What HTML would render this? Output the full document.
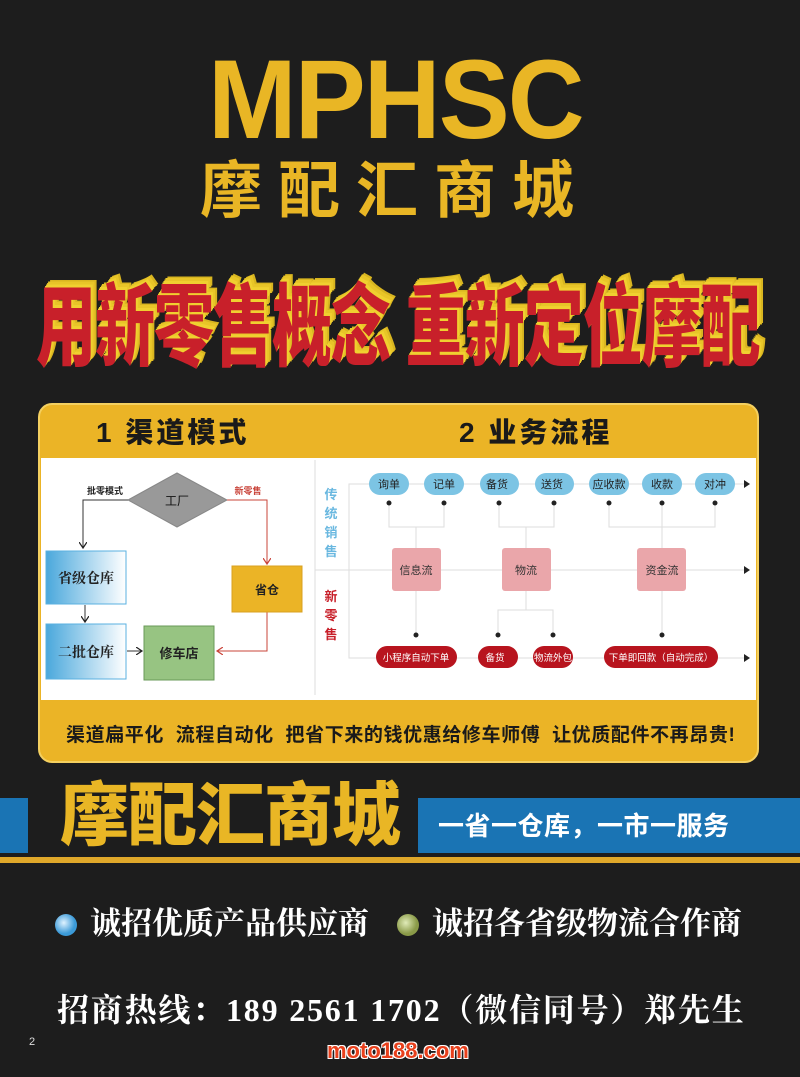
<!DOCTYPE html>
<html><head><meta charset="utf-8"><style>
*{margin:0;padding:0;box-sizing:border-box}
body{width:800px;height:1077px;background:#1d1d1d;position:relative;overflow:hidden;font-family:"Liberation Sans","Noto Sans CJK SC",sans-serif}
.a{position:absolute;white-space:nowrap}
.cn{font-family:"Liberation Sans","Noto Sans CJK SC",sans-serif}
.sf{font-family:"Liberation Serif","Noto Serif CJK SC",serif}
</style></head><body>
<div class="a" style="left:208px;top:40px;font-size:112px;font-weight:bold;color:#e9b625;line-height:120px;transform:scaleX(0.95);transform-origin:left top;letter-spacing:-2px">MPHSC</div>
<div class="a cn" style="left:200px;top:152px;font-size:62px;font-weight:bold;color:#e9b625;letter-spacing:16px;line-height:80px">摩配汇商城</div>
<div class="a cn" style="left:36px;top:276px;font-size:60px;font-weight:900;color:#c8202a;line-height:70px;transform:scaleY(1.5);transform-origin:left top;letter-spacing:-1px;text-shadow:1px -1px 0 #f0d030,2px -2px 0 #f0d030,3px -3px 0 #e8c528,4px -4px 0 #e8c528,5px -4px 0 #d8b520,6px -5px 0 #d8b520">用新零售概念 重新定位摩配</div>

<div class="a" style="left:38px;top:403px;width:721px;height:360px;border-radius:14px;background:#ebb426;border:2px solid #f4d060"></div>
<div class="a" style="left:41px;top:458px;width:715px;height:242px;background:#fff"></div>
<div class="a cn" style="left:96px;top:411px;font-size:28px;font-weight:900;color:#1a1a1a;letter-spacing:3px">1 渠道模式</div>
<div class="a cn" style="left:459px;top:411px;font-size:28px;font-weight:900;color:#1a1a1a;letter-spacing:3px">2 业务流程</div>
<div class="a cn" style="left:66px;top:720px;font-size:19px;font-weight:bold;color:#1a1a1a;letter-spacing:0.6px">渠道扁平化&nbsp; 流程自动化&nbsp; 把省下来的钱优惠给修车师傅&nbsp; 让优质配件不再昂贵!</div>

<svg class="a" style="left:0;top:0" width="800" height="1077" font-family="Liberation Sans,Noto Sans CJK SC,sans-serif">
<defs>
<linearGradient id="bg1" x1="0" x2="1"><stop offset="0" stop-color="#4aa8dc"/><stop offset="1" stop-color="#fff"/></linearGradient>
<marker id="ak" markerWidth="8" markerHeight="8" refX="6" refY="4" orient="auto"><path d="M0,0 L6,4 L0,8" fill="none" stroke="#222" stroke-width="1.2"/></marker>
<marker id="ar" markerWidth="8" markerHeight="8" refX="6" refY="4" orient="auto"><path d="M0,0 L6,4 L0,8" fill="none" stroke="#c9443a" stroke-width="1.2"/></marker>
</defs>
<line x1="315" y1="460" x2="315" y2="695" stroke="#ddd"/>
<polygon points="128,500 177,473 227,500 177,527" fill="#999" stroke="#888"/>
<text x="177" y="505" font-size="12" text-anchor="middle" fill="#111">工厂</text>
<text x="105" y="494" font-size="9" font-weight="bold" text-anchor="middle" fill="#222">批零模式</text>
<text x="248" y="494" font-size="9" font-weight="bold" text-anchor="middle" fill="#c9443a">新零售</text>
<polyline points="128,500 83,500 83,548" fill="none" stroke="#333" marker-end="url(#ak)"/>
<polyline points="227,500 267,500 267,564" fill="none" stroke="#c9443a" marker-end="url(#ar)"/>
<polyline points="267,612 267,651 217,651" fill="none" stroke="#c9443a" marker-end="url(#ar)"/>
<line x1="85" y1="605" x2="85" y2="622" stroke="#333" marker-end="url(#ak)"/>
<line x1="127" y1="651" x2="142" y2="651" stroke="#333" marker-end="url(#ak)"/>
<rect x="46" y="551" width="80" height="53" fill="url(#bg1)" stroke="#5ab0e0"/>
<rect x="46" y="624" width="80" height="55" fill="url(#bg1)" stroke="#5ab0e0"/>
<rect x="144" y="626" width="70" height="54" fill="#97c482" stroke="#6a9a58"/>
<rect x="232" y="566" width="70" height="46" fill="#ebb426" stroke="#d8a020"/>
<text x="86" y="583" font-size="14" font-family="Liberation Serif,Noto Serif CJK SC,serif" font-weight="bold" text-anchor="middle" fill="#222">省级仓库</text>
<text x="86" y="657" font-size="14" font-family="Liberation Serif,Noto Serif CJK SC,serif" font-weight="bold" text-anchor="middle" fill="#222">二批仓库</text>
<text x="179" y="658" font-size="13" font-weight="bold" text-anchor="middle" fill="#222">修车店</text>
<text x="267" y="594" font-size="12" font-weight="bold" text-anchor="middle" fill="#222">省仓</text>
<g stroke="#ddd" fill="none">
<polyline points="745,484 349,484 349,658 745,658"/>
<line x1="315" y1="570" x2="745" y2="570"/>
<polyline points="389,503 389,527 444,527 444,503"/><line x1="416" y1="527" x2="416" y2="635"/>
<polyline points="499,503 499,527 554,527 554,503"/><line x1="526" y1="527" x2="526" y2="610"/>
<polyline points="498,635 498,610 553,610 553,635"/>
<polyline points="609,503 609,527 715,527 715,503"/><line x1="662" y1="503" x2="662" y2="635"/>
</g>
<g fill="#222"><path d="M744,480 L750,484 L744,488z"/><path d="M744,566 L750,570 L744,574z"/><path d="M744,654 L750,658 L744,662z"/>
<circle cx="389" cy="503" r="2.5"/><circle cx="444" cy="503" r="2.5"/><circle cx="499" cy="503" r="2.5"/><circle cx="554" cy="503" r="2.5"/><circle cx="609" cy="503" r="2.5"/><circle cx="662" cy="503" r="2.5"/><circle cx="715" cy="503" r="2.5"/>
<circle cx="416" cy="635" r="2.5"/><circle cx="498" cy="635" r="2.5"/><circle cx="553" cy="635" r="2.5"/><circle cx="662" cy="635" r="2.5"/></g>
<g fill="#7cc4e4"><rect x="369" y="473" width="40" height="22" rx="11"/><rect x="424" y="473" width="40" height="22" rx="11"/><rect x="480" y="473" width="39" height="22" rx="11"/><rect x="535" y="473" width="39" height="22" rx="11"/><rect x="589" y="473" width="40" height="22" rx="11"/><rect x="642" y="473" width="40" height="22" rx="11"/><rect x="695" y="473" width="40" height="22" rx="11"/></g>
<g font-size="11" text-anchor="middle" fill="#222"><text x="389" y="488">询单</text><text x="444" y="488">记单</text><text x="497" y="488">备货</text><text x="552" y="488">送货</text><text x="609" y="488">应收款</text><text x="662" y="488">收款</text><text x="715" y="488">对冲</text></g>
<g fill="#eaa6aa"><rect x="392" y="548" width="49" height="43" rx="3"/><rect x="502" y="548" width="49" height="43" rx="3"/><rect x="637" y="548" width="49" height="43" rx="3"/></g>
<g font-size="11" text-anchor="middle" fill="#333"><text x="416" y="574">信息流</text><text x="526" y="574">物流</text><text x="662" y="574">资金流</text></g>
<g fill="#b8141e"><rect x="376" y="646" width="81" height="22" rx="11"/><rect x="478" y="646" width="40" height="22" rx="11"/><rect x="533" y="646" width="40" height="22" rx="11"/><rect x="604" y="646" width="114" height="22" rx="11"/></g>
<g font-size="9.5" text-anchor="middle" fill="#fff"><text x="416" y="661">小程序自动下单</text><text x="495" y="661">备货</text><text x="553" y="661">物流外包</text><text x="661" y="661">下单即回款（自动完成）</text></g>
<g font-size="13" font-weight="bold" text-anchor="middle"><text x="331" y="499" fill="#6ab8e0">传</text><text x="331" y="518" fill="#6ab8e0">统</text><text x="331" y="537" fill="#6ab8e0">销</text><text x="331" y="556" fill="#6ab8e0">售</text>
<text x="331" y="601" fill="#c8202a">新</text><text x="331" y="620" fill="#c8202a">零</text><text x="331" y="639" fill="#c8202a">售</text></g>
<rect x="0" y="798" width="28" height="55" fill="#1a74b4"/>
<rect x="418" y="798" width="382" height="55" fill="#1a74b4"/>
<rect x="0" y="857" width="800" height="6" fill="#e0a82a"/>
<defs><radialGradient id="cb" cx=".4" cy=".4"><stop offset="0" stop-color="#dff2ff"/><stop offset="1" stop-color="#3b9ad8"/></radialGradient>
<radialGradient id="cg" cx=".4" cy=".4"><stop offset="0" stop-color="#e0ebb8"/><stop offset="1" stop-color="#8a9a48"/></radialGradient></defs>
<circle cx="66" cy="925" r="11" fill="url(#cb)"/><circle cx="408" cy="925" r="11" fill="url(#cg)"/>
</svg>
<div class="a cn" style="left:60px;top:776px;font-size:69px;font-weight:900;color:#e9b625;line-height:80px;letter-spacing:-1px">摩配汇商城</div>
<div class="a cn" style="left:438px;top:808px;font-size:26px;font-weight:bold;color:#fff;line-height:36px;letter-spacing:0.5px">一省一仓库，一市一服务</div>
<div class="a sf" style="left:90px;top:904px;font-size:31px;font-weight:bold;color:#fff;line-height:40px">诚招优质产品供应商</div>
<div class="a sf" style="left:432px;top:904px;font-size:31px;font-weight:bold;color:#fff;line-height:40px">诚招各省级物流合作商</div>
<div class="a sf" style="left:57px;top:990px;font-size:32px;font-weight:bold;color:#fff;line-height:40px;letter-spacing:1.8px">招商热线：189 2561 1702（微信同号）郑先生</div>
<div class="a" style="left:29px;top:1036px;font-size:11px;color:#ddd">2</div>
<div class="a" style="left:327px;top:1039px;font-size:22px;font-weight:bold;color:#e8401c;line-height:24px;text-shadow:1px 1px 0 #fff,-1px -1px 0 #fff,1px -1px 0 #fff,-1px 1px 0 #fff">moto188.com</div>
</body></html>
